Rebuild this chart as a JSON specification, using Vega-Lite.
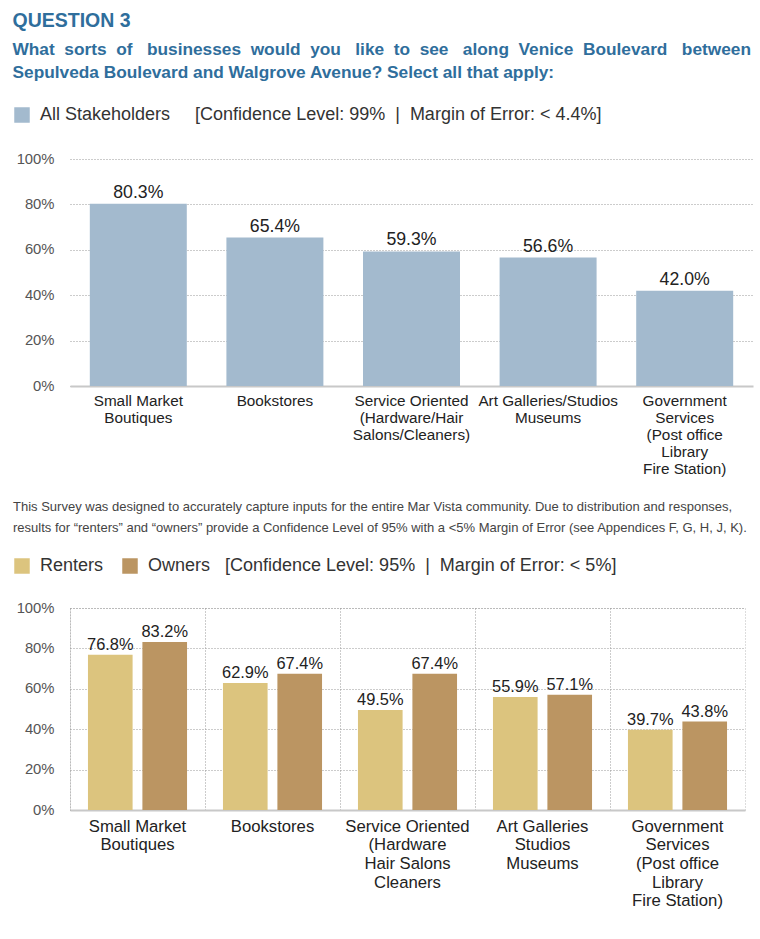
{
  "$schema": "https://vega.github.io/schema/vega-lite/v6.json",
  "padding": {"left": 12, "top": 11, "right": 8, "bottom": 8},
  "background": "white",
  "title": {
    "text": "QUESTION 3",
    "subtitle": ["What\u00a0 sorts\u00a0 of\u00a0\u00a0 businesses\u00a0 would\u00a0 you\u00a0\u00a0 like\u00a0 to\u00a0 see\u00a0\u00a0 along\u00a0 Venice\u00a0 Boulevard\u00a0\u00a0 between", "Sepulveda Boulevard and Walgrove Avenue? Select all that apply:"],
    "anchor": "start",
    "frame": "bounds",
    "font": "Liberation Sans",
    "fontSize": 19.5,
    "fontWeight": "bold",
    "color": "#2f6e9c",
    "subtitleFont": "Liberation Sans",
    "subtitleFontSize": 17.3,
    "subtitleFontWeight": "bold",
    "subtitleColor": "#2f6e9c",
    "subtitlePadding": 9,
    "subtitleLineHeight": 23,
    "offset": 24
  },
  "spacing": 23,
  "resolve": {"scale": {"color": "independent"}, "legend": {"color": "independent"}},
  "vconcat": [
    {
      "width": 683,
      "height": 227,
      "view": {"stroke": null},
      "data": {"values": [
        {"category": "Small Market|Boutiques", "value": 0.803},
        {"category": "Bookstores", "value": 0.654},
        {"category": "Service Oriented|(Hardware/Hair|Salons/Cleaners)", "value": 0.593},
        {"category": "Art Galleries/Studios|Museums", "value": 0.566},
        {"category": "Government|Services|(Post office|Library|Fire Station)", "value": 0.42}
      ]},
      "encoding": {
        "x": {
          "field": "category", "type": "nominal", "sort": null,
          "scale": {"paddingInner": 0.29, "paddingOuter": 0.145},
          "axis": {"title": null, "labelAngle": 0, "labelExpr": "split(datum.label, '|')", "labelFontSize": 15.3, "labelLineHeight": 17, "labelColor": "#222", "labelPadding": 7, "ticks": false, "domainColor": "#c8c8c8", "domainWidth": 2, "labelLimit": 300}
        },
        "y": {
          "field": "value", "type": "quantitative",
          "scale": {"domain": [0, 1]},
          "axis": {"title": null, "format": ".0%", "values": [0, 0.2, 0.4, 0.6, 0.8, 1], "domain": false, "ticks": false, "labelPadding": 16, "labelFontSize": 14.8, "labelColor": "#555", "gridDash": [1, 2], "gridColor": "#999"}
        }
      },
      "layer": [
        {
          "mark": {"type": "bar"},
          "encoding": {
            "color": {"datum": "All Stakeholders", "type": "nominal", "scale": {"domain": ["All Stakeholders"], "range": ["#a3bace"]},
              "legend": {"orient": "none", "legendX": -57, "legendY": -53, "title": null, "symbolType": "square", "symbolSize": 240, "symbolStrokeWidth": 0, "labelFontSize": 18, "labelColor": "#333", "labelOffset": 9, "padding": 0, "labelLimit": 700,
                "labelExpr": "datum.label + '\u00a0\u00a0\u00a0\u00a0 [Confidence Level: 99%\u00a0\u00a0|\u00a0 Margin of Error: < 4.4%]'"}}
          }
        },
        {
          "mark": {"type": "text", "baseline": "alphabetic", "dy": -6, "fontSize": 17.7, "color": "#222"},
          "encoding": {"text": {"field": "value", "type": "quantitative", "format": ".1%"}}
        }
      ]
    },
    {
      "width": 675,
      "height": 202,
      "view": {"stroke": "#bbb", "strokeDash": [1, 2]},
      "title": {
        "text": ["This Survey was designed to accurately capture inputs for the entire Mar Vista community. Due to distribution and responses,", "results for \u201crenters\u201d and \u201cowners\u201d provide a Confidence Level of 95% with a <5% Margin of Error (see Appendices F, G, H, J, K)."],
        "anchor": "start", "frame": "bounds", "font": "Liberation Sans", "fontSize": 13, "fontWeight": "normal", "color": "#444", "lineHeight": 21, "offset": 22
      },
      "data": {"values": [
        {"category": "Small Market|Boutiques", "group": "Renters", "value": 0.768},
        {"category": "Small Market|Boutiques", "group": "Owners", "value": 0.832},
        {"category": "Bookstores", "group": "Renters", "value": 0.629},
        {"category": "Bookstores", "group": "Owners", "value": 0.674},
        {"category": "Service Oriented|(Hardware|Hair Salons|Cleaners", "group": "Renters", "value": 0.495},
        {"category": "Service Oriented|(Hardware|Hair Salons|Cleaners", "group": "Owners", "value": 0.674},
        {"category": "Art Galleries|Studios|Museums", "group": "Renters", "value": 0.559},
        {"category": "Art Galleries|Studios|Museums", "group": "Owners", "value": 0.571},
        {"category": "Government|Services|(Post office|Library|Fire Station)", "group": "Renters", "value": 0.397},
        {"category": "Government|Services|(Post office|Library|Fire Station)", "group": "Owners", "value": 0.438}
      ]},
      "encoding": {
        "x": {
          "field": "category", "type": "nominal", "sort": null,
          "scale": {"paddingInner": 0, "paddingOuter": 0},
          "axis": {"title": null, "labelAngle": 0, "labelExpr": "split(datum.label, '|')", "labelFontSize": 16.7, "labelLineHeight": 18.7, "labelColor": "#222", "labelPadding": 8, "ticks": false, "domainColor": "#c8c8c8", "domainWidth": 2, "labelLimit": 300, "grid": true, "bandPosition": 0, "gridDash": [1, 2], "gridColor": "#999"}
        },
        "xOffset": {"field": "group", "type": "nominal", "sort": ["Renters", "Owners"], "scale": {"paddingInner": 0.18, "paddingOuter": 0.33}},
        "y": {
          "field": "value", "type": "quantitative",
          "scale": {"domain": [0, 1]},
          "axis": {"title": null, "format": ".0%", "values": [0, 0.2, 0.4, 0.6, 0.8, 1], "domain": false, "ticks": false, "labelPadding": 16, "labelFontSize": 14.8, "labelColor": "#555", "gridDash": [1, 2], "gridColor": "#999"}
        }
      },
      "layer": [
        {
          "mark": {"type": "bar"},
          "encoding": {
            "color": {"field": "group", "type": "nominal", "scale": {"domain": ["Renters", "Owners"], "range": ["#dcc47e", "#bb9562"]},
              "legend": {"orient": "none", "legendX": -57, "legendY": -51, "direction": "horizontal", "title": null, "symbolType": "square", "symbolSize": 240, "symbolStrokeWidth": 0, "labelFontSize": 18, "labelColor": "#333", "labelOffset": 9, "columnPadding": 17, "padding": 0, "labelLimit": 700,
                "labelExpr": "datum.label == 'Owners' ? datum.label + '\u00a0\u00a0 [Confidence Level: 95%\u00a0\u00a0|\u00a0 Margin of Error: < 5%]' : datum.label"}}
          }
        },
        {
          "mark": {"type": "text", "baseline": "alphabetic", "dy": -5, "fontSize": 16.4, "color": "#222"},
          "encoding": {"text": {"field": "value", "type": "quantitative", "format": ".1%"}}
        }
      ]
    }
  ],
  "config": {
    "font": "Liberation Sans",
    "axis": {"labelFont": "Liberation Sans"},
    "legend": {"labelFont": "Liberation Sans"}
  }
}
